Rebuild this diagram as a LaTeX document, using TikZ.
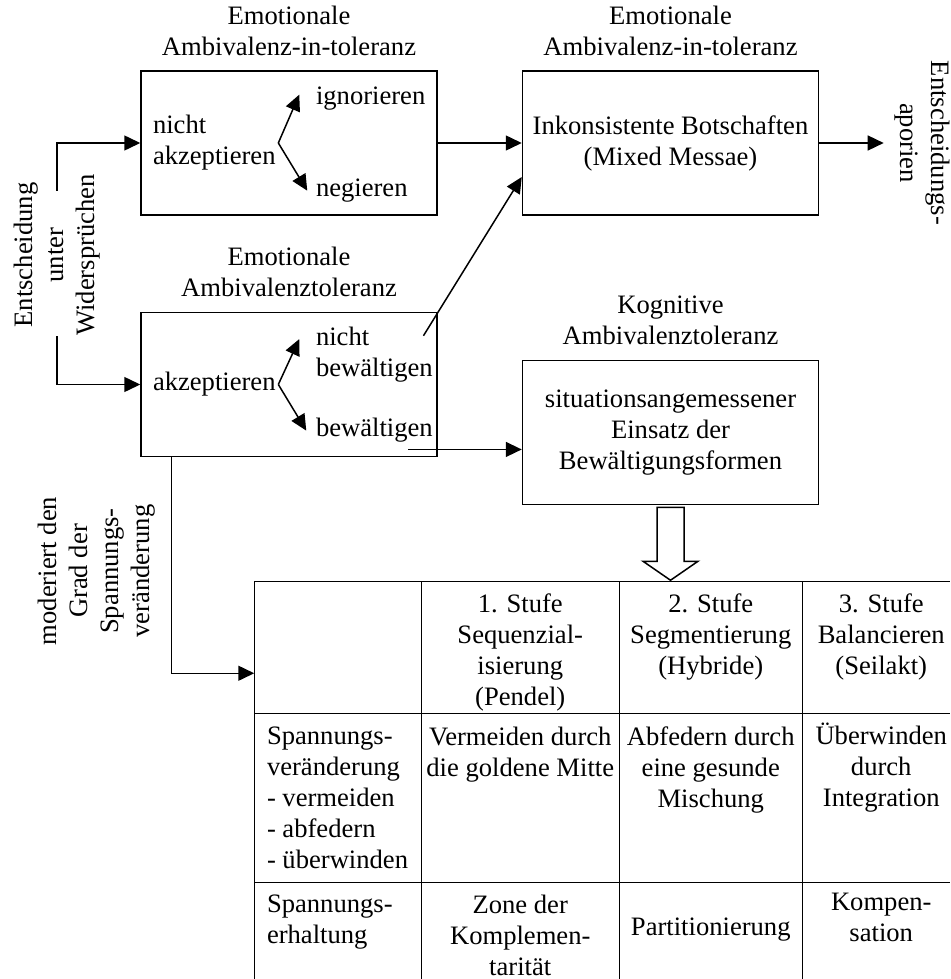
\documentclass[tikz,border=0pt]{standalone}
\usepackage{fontspec}
\setmainfont{Liberation Serif}
\usetikzlibrary{positioning,arrows.meta}

\begin{document}
\begin{tikzpicture}[
  font=\fontsize{13.3pt}{15.5pt}\selectfont,
  line width=0.75pt,
  box/.style={draw, minimum width=148pt, minimum height=72pt, align=center},
  lab/.style={inner sep=0pt, align=center},
  txt/.style={inner sep=0pt, align=left},
  cell/.style={inner sep=0pt, align=center, anchor=north},
  >={Triangle[length=8pt, width=7.5pt]}
]
\useasboundingbox (0,0) rectangle (475.5pt,-489.5pt);
% boxes
\node[box] (intol) at (144.5pt,-71.5pt) {};
\node[box, right=42pt of intol] (mixed) {Inkonsistente Botschaften\\(Mixed Messae)};
\node[box, below=48pt of intol] (tol) {};
\node[box, below=72pt of mixed] (kog) {situationsangemessener\\Einsatz der\\Bewältigungsformen};
\node[lab, above=7pt of intol] (intolhd) {Emotionale\\Ambivalenz-in-toleranz};
\node[lab, above=7pt of mixed] (mixedhd) {Emotionale\\Ambivalenz-in-toleranz};
\node[lab, above=7pt of tol] (tolhd) {Emotionale\\Ambivalenztoleranz};
\node[lab, above=7pt of kog] (koghd) {Kognitive\\Ambivalenztoleranz};
% inside the left boxes
\node[txt, right=6pt of intol.west] (nakz) {nicht\\akzeptieren};
\coordinate[right=1pt of nakz.east] (br1);
\node[txt, below right=8pt and 87.5pt of intol.north west] (ign) {ignorieren};
\node[txt, below right=54pt and 87.5pt of intol.north west] (neg) {negieren};
\node[txt, right=6pt of tol.west] (akz) {akzeptieren};
\coordinate[right=1pt of akz.east] (br2);
\node[txt, below right=7.5pt and 87.5pt of tol.north west] (nbew) {nicht\\bewältigen};
\node[txt, below right=53pt and 87.5pt of tol.north west] (bew) {bewältigen};
\draw[->] (br1) -- ([xshift=-8pt,yshift=2pt]ign.west);
\draw[->] (br1) -- ([xshift=-4pt]neg.west);
\draw[->] (br2) -- ([xshift=-8pt,yshift=8pt]nbew.west);
\draw[->] (br2) -- ([xshift=-4.5pt]bew.west);
% side labels
\node[lab, rotate=90] (ent) at (28.5pt,-127.5pt) {Entscheidung\\unter\\Widersprüchen};
\node[lab, rotate=-90] (apor) at (461pt,-71.5pt) {Entscheidungs-\\aporien};
\node[lab, rotate=90] (mod) at (48.5pt,-285.5pt) {moderiert den\\Grad der\\Spannungs-\\veränderung};
% connectors
\draw[->] ([yshift=-8.5pt]ent.east) |- (intol.west);
\draw[->] (ent.west) |- (tol.west);
\draw[->] (intol) -- (mixed);
\draw[->, shorten >=5pt] (mixed.east) -- (apor.south);
\draw[->] ([xshift=-5pt,yshift=-4.5pt]nbew.north east) -- ([yshift=-17pt]mixed.west);
\coordinate (bewout) at ([xshift=-12.5pt,yshift=-3pt]bew.south east);
\draw[->] (bewout) -- (bewout -| kog.west);
\draw ([xshift=-6.75pt,yshift=-1pt]kog.south) -- ++(0,-27pt) -- ++(-7pt,0) -- ++(13.75pt,-9.5pt)
  -- ++(13.75pt,9.5pt) -- ++(-7pt,0) -- ++(0,27pt) -- cycle;
% table
\coordinate[below right=62pt and 57pt of tol.south west] (tab);
\coordinate[below=46pt of tab] (tabin);
\draw[->] ([xshift=15.5pt]tol.south west) |- (tabin);
\begin{scope}[shift={(tab)}]
\draw (0,0) -- (348pt,0);
\draw (0,-66pt) -- (348pt,-66pt);
\draw (0,-150.5pt) -- (348pt,-150.5pt);
\draw (0,0) -- (0,-200pt);
\draw (83.5pt,0) -- (83.5pt,-200pt);
\draw (182.5pt,0) -- (182.5pt,-200pt);
\draw (274pt,0) -- (274pt,-200pt);
\node[cell] (h1) at (133pt,-6pt) {1. Stufe\\Sequenzial-\\isierung\\(Pendel)};
\node[cell] (h2) at (228.25pt,-6pt) {2. Stufe\\Segmentierung\\(Hybride)};
\node[cell] (h3) at (313.5pt,-6pt) {3. Stufe\\Balancieren\\(Seilakt)};
\node[txt, anchor=north west] (r1) at (6pt,-72.5pt) {Spannungs-\\veränderung\\- vermeiden\\- abfedern\\- überwinden};
\node[cell] (v1) at (133pt,-72.5pt) {Vermeiden durch\\die goldene Mitte};
\node[cell] (v2) at (228.25pt,-72.5pt) {Abfedern durch\\eine gesunde\\Mischung};
\node[cell] (v3) at (313.5pt,-70.5pt) {Überwinden\\durch\\Integration};
\node[txt, anchor=north west] (r2) at (6pt,-156.5pt) {Spannungs-\\erhaltung};
\node[cell] (z1) at (133pt,-156.5pt) {Zone der\\Komplemen-\\tarität};
\node[cell] (z2) at (228.25pt,-168pt) {Partitionierung};
\node[cell] (z3) at (313.5pt,-155.5pt) {Kompen-\\sation};
\end{scope}
\end{tikzpicture}
\end{document}
